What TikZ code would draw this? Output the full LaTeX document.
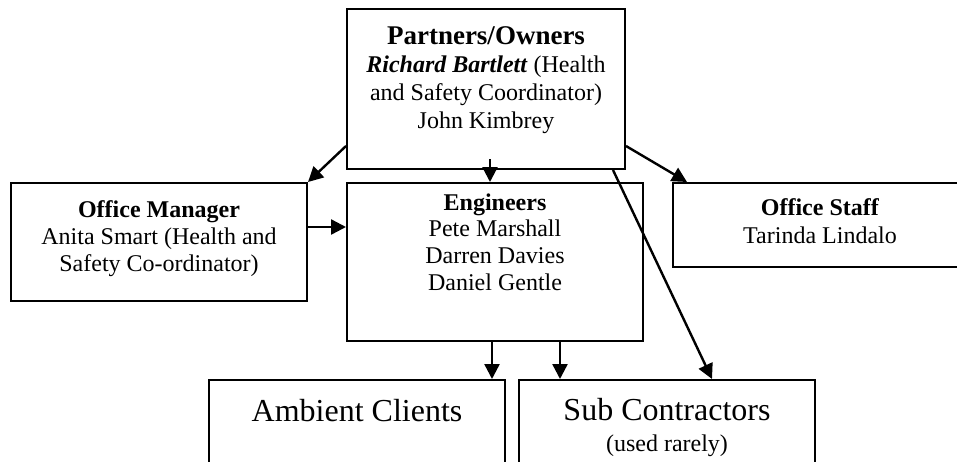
\documentclass[tikz,border=0pt]{standalone}
\usepackage{fontspec}
\setmainfont{Liberation Serif}
\usetikzlibrary{fit,arrows.meta}
\tikzset{
  box/.style={draw, line width=1pt, inner sep=0pt, rectangle},
  txt/.style={anchor=north, inner sep=0pt, align=center, font=\fontsize{12}{14}\selectfont},
  conn/.style={line width=1.2pt, -{Triangle[length=7.5pt,width=7.5pt]}}
}
\begin{document}
\begin{tikzpicture}[x=0.5pt,y=-0.5pt]
\clip (0,0) rectangle (957,461);
\fill[white] (0,0) rectangle (957,461);
% boxes
\node[box, fit={(347,9)(625,169)}] (partners) {};
\node[box, fit={(347,183)(643,341)}] (eng) {};
\node[box, fit={(11,183)(307,301)}] (mgr) {};
\node[box, fit={(673,183)(967,267)}] (staff) {};
\node[box, fit={(209,380)(505,475)}] (amb) {};
\node[box, fit={(519,380)(815,475)}] (sub) {};
% texts
\node[txt] (tpartners) at (486,26) {{\fontsize{13.5}{14}\selectfont\bfseries Partners/Owners}\\
  \textbf{\textit{Richard Bartlett}} (Health\\ and Safety Coordinator)\\ John Kimbrey};
\node[txt, font=\fontsize{12}{13.4}\selectfont] (teng) at (495,193) {\textbf{Engineers}\\ Pete Marshall\\ Darren Davies\\ Daniel Gentle};
\node[txt, font=\fontsize{12}{13.5}\selectfont] (tmgr) at (159,200) {\textbf{Office Manager}\\ Anita Smart (Health and\\ Safety Co-ordinator)};
\node[txt] (tstaff) at (820,198) {\textbf{Office Staff}\\ Tarinda Lindalo};
\node[txt, font=\fontsize{16}{18}\selectfont] (tamb) at (357,399) {Ambient Clients};
\node[txt, font=\fontsize{16}{15.5}\selectfont] (tsub) at (667,398) {Sub Contractors\\ {\fontsize{12}{14}\selectfont (used rarely)}};
% connectors
\draw[conn] ([yshift=12pt]partners.south west) -- (mgr.north east);
\coordinate (pdown) at ([xshift=2pt,yshift=5.5pt]partners.south);
\draw[conn] (pdown) -- (pdown |- eng.north);
\draw[conn] ([yshift=12pt]partners.south east) -- ([xshift=7.5pt]staff.north west);
\draw[conn] ([xshift=-6.5pt]partners.south east) -- ([xshift=97pt]sub.north west);
\coordinate (mright) at ([yshift=7.5pt]mgr.east);
\draw[conn] (mright) -- (mright -| eng.west);
\coordinate (ambtop) at ([xshift=-7pt]amb.north east);
\draw[conn] (ambtop |- eng.south) -- (ambtop);
\coordinate (subtop) at ([xshift=21pt]sub.north west);
\draw[conn] (subtop |- eng.south) -- (subtop);
\end{tikzpicture}
\end{document}
